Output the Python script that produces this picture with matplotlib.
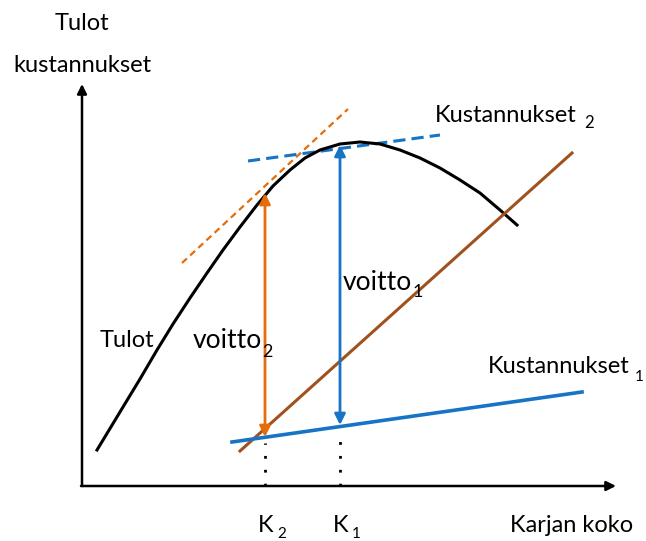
import matplotlib.pyplot as plt

plt.rcParams['font.family'] = ['Lato', 'DejaVu Sans']

# Tulot curve (origin at the axes corner)
tulot_x = [15, 41, 58, 75, 91, 108, 125, 141, 158, 175, 191, 208, 223, 238,
           258, 278, 298, 318, 338, 358, 378, 398, 418, 435]
tulot_y = [36, 79, 107, 136, 162, 188, 213, 236, 259, 281, 300, 316, 328, 336,
           342, 344, 342, 336, 328, 318, 306, 293, 276, 261]

# straight cost lines and tangents (end points)
kust1_x, kust1_y = [150, 500], [44, 94]
brown_x, brown_y = [158, 490], [35, 333]
tang2_x, tang2_y = [100, 266], [223, 377]
tang1_x, tang1_y = [166, 358], [325, 351]

# herd sizes K2, K1 and the profit arrows
k_pos = [183, 258]
k_names = ['K', 'K']
k_subs = ['2', '1']
voitto_low = [49, 61]
voitto_high = [293, 341]

ORANGE = '#E46C0A'
BLUE = '#1673C6'
BROWN = '#A0521E'

fig = plt.figure(figsize=(6.46, 5.41), dpi=100)
ax = fig.add_axes([0, 0, 1, 1])
ax.set_xlim(-82, 564)
ax.set_ylim(-55, 486)
ax.axis('off')

# axes with arrows
ax.annotate('', xy=(0, 402), xytext=(0, 0),
            arrowprops=dict(arrowstyle='-|>', lw=1.8, color='black', mutation_scale=14, shrinkA=0, shrinkB=0))
ax.annotate('', xy=(534, 0), xytext=(-1, 0),
            arrowprops=dict(arrowstyle='-|>', lw=1.8, color='black', mutation_scale=14, shrinkA=0, shrinkB=0))

# lines
ax.plot(tang2_x, tang2_y, color=ORANGE, lw=1.6, ls=(0, (3, 2)))
ax.plot(tang1_x, tang1_y, color=BLUE, lw=2.2, ls=(0, (4, 2)))
ax.plot(tulot_x, tulot_y, color='black', lw=2.2, solid_joinstyle='round')
ax.plot(brown_x, brown_y, color=BROWN, lw=2.2)
ax.plot(kust1_x, kust1_y, color=BLUE, lw=2.6)

# dotted guides down to the x axis
for xk, yl in zip(k_pos, voitto_low):
    ax.plot([xk, xk], [0, yl - 6], color='black', lw=2, ls=(0, (1, 4)))

# profit arrows
for xk, yl, yh, c in zip(k_pos, voitto_low, voitto_high, [ORANGE, BLUE]):
    ax.annotate('', xy=(xk, yl), xytext=(xk, yh),
                arrowprops=dict(arrowstyle='<|-|>', lw=2, color=c, mutation_scale=16, shrinkA=0, shrinkB=0))

# texts
fs = 17
ax.text(0, 456, 'Tulot', fontsize=fs, ha='center', va='baseline')
ax.text(0, 414, 'kustannukset', fontsize=fs, ha='center', va='baseline')
ax.text(18, 139, 'Tulot', fontsize=fs, ha='left', va='baseline')

ax.text(111, 138, 'voitto', fontsize=19, ha='left', va='baseline')
ax.text(180, 129, '2', fontsize=13, ha='left', va='baseline')
ax.text(261, 196, 'voitto', fontsize=19, ha='left', va='baseline')
ax.text(331, 189, '1', fontsize=13, ha='left', va='baseline')

ax.text(353, 364, 'Kustannukset', fontsize=fs, ha='left', va='baseline')
ax.text(502, 358, '2', fontsize=12, ha='left', va='baseline')
ax.text(406, 113, 'Kustannukset', fontsize=fs, ha='left', va='baseline')
ax.text(553, 105, '1', fontsize=11, ha='left', va='baseline')

for xk, nm, sb in zip(k_pos, k_names, k_subs):
    ax.text(xk - 7, -46, nm, fontsize=fs, ha='left', va='baseline')
    ax.text(xk + 12, -52, sb, fontsize=11, ha='left', va='baseline')
ax.text(428, -46, 'Karjan koko', fontsize=fs, ha='left', va='baseline')

fig.savefig('out.png', dpi=100)
